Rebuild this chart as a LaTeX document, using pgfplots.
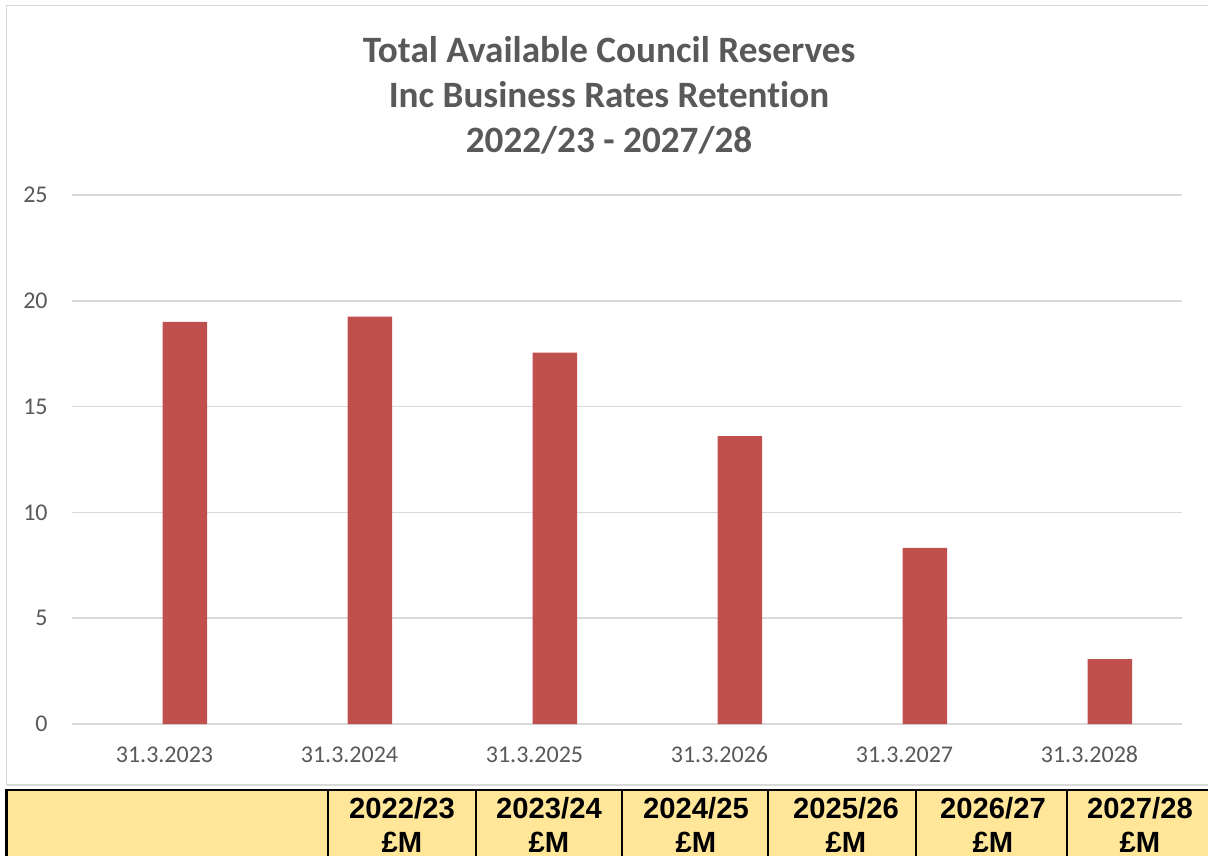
\documentclass[border=0pt]{standalone}
\usepackage{pgfplots}
\pgfplotsset{compat=1.18}
\usepackage{fontspec}
\setmainfont{Carlito}[Ligatures=NoCommon]
\newfontfamily\arialfont{Liberation Sans}
\definecolor{txtgray}{HTML}{595959}
\definecolor{gridgray}{HTML}{D9D9D9}
\definecolor{barred}{HTML}{C0504D}
\definecolor{celly}{HTML}{FFE699}
\begin{document}
\begin{tikzpicture}
\useasboundingbox (0,0) rectangle (604bp,-428bp);
% chart frame
\fill[white] (3.25bp,-2.75bp) rectangle (604bp,-392.5bp);
\draw[gridgray,line width=0.9bp] (3.25bp,-392.5bp) -- (3.25bp,-2.75bp) -- (606bp,-2.75bp);
\draw[gridgray,line width=0.9bp] (3.25bp,-392.5bp) -- (606bp,-392.5bp);
% title
\node[anchor=base,font=\fontsize{18.6bp}{22.5bp}\selectfont\bfseries,text=txtgray] at (304.5bp,-31bp) {Total Available Council Reserves};
\node[anchor=base,font=\fontsize{18.6bp}{22.5bp}\selectfont\bfseries,text=txtgray] at (304.5bp,-53.5bp) {Inc Business Rates Retention};
\node[anchor=base,font=\fontsize{18.6bp}{22.5bp}\selectfont\bfseries,text=txtgray] at (304.5bp,-76bp) {2022/23 - 2027/28};
\begin{axis}[
  at={(36bp,-362bp)}, anchor=south west,
  scale only axis, width=555bp, height=264.5bp,
  xmin=-0.5, xmax=5.5, ymin=0, ymax=25,
  ytick={0,5,10,15,20,25},
  xtick={0,1,2,3,4,5},
  xticklabels={31.3.2023,31.3.2024,31.3.2025,31.3.2026,31.3.2027,31.3.2028},
  axis line style={draw=none},
  major tick length=0pt,
  ymajorgrids, major grid style={gridgray,line width=0.8bp},
  /pgf/number format/assume math mode=true,
  ticklabel style={font=\fontsize{12bp}{14bp}\selectfont,text=txtgray,inner sep=0pt},
  yticklabel style={anchor=east,xshift=-12bp},
  xticklabel style={anchor=base,yshift=-19.25bp},
  clip=false,
]
\addplot[ybar,bar width=0.24,bar shift=0.11,fill=barred,draw=none] coordinates {
(0,19.0) (1,19.25) (2,17.55) (3,13.61) (4,8.32) (5,3.07)};
\end{axis}
% table header row
\fill[celly] (3.25bp,-395bp) rectangle (606bp,-430bp);
\draw[black,line width=1.2bp] (3.25bp,-430bp) -- (3.25bp,-395bp) -- (606bp,-395bp);
\foreach \xx in {164,238,311,384,458,533.5} {
  \draw[black,line width=0.9bp] (\xx bp,-395bp) -- (\xx bp,-430bp);
}
\foreach \xx/\lab in {201/2022\slash 23,274.5/2023\slash 24,348/2024\slash 25,423/2025\slash 26,496.5/2026\slash 27,570/2027\slash 28} {
  \node[anchor=base,font=\arialfont\fontsize{14.6bp}{17bp}\selectfont\bfseries,inner sep=0pt] at (\xx bp,-409bp) {\lab};
  \node[anchor=base,font=\arialfont\fontsize{14.6bp}{17bp}\selectfont\bfseries,inner sep=0pt] at (\xx bp,-426bp) {£M};
}
\end{tikzpicture}
\end{document}
